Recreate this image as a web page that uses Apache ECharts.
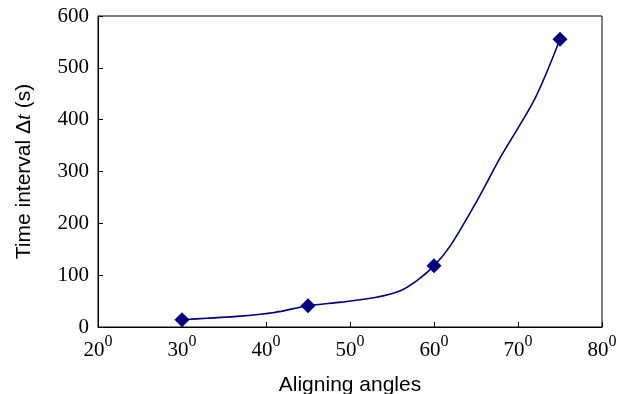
<!DOCTYPE html>
<html>
<head>
<meta charset="utf-8">
<script src="https://cdn.jsdelivr.net/npm/echarts@6/dist/echarts.min.js"></script>
<style>
  html, body { margin: 0; padding: 0; background: #fff; }
  #chart { width: 625px; height: 394px; }
</style>
</head>
<body>
<div id="chart"></div>
<script>
// measured points (diamonds)
const angles = [30, 45, 60, 75];
const times = [14, 41, 118, 555];

// fitted curve
const curveAngles = [30, 33, 37, 41, 45, 49, 53, 56, 58, 60, 62, 65, 68, 72, 75];
const curveTimes = [14, 17, 21, 28, 41, 48, 57, 70, 90, 118, 158, 240, 330, 440, 555];

const xTicks = [20, 30, 40, 50, 60, 70, 80];
const yTicks = [0, 100, 200, 300, 400, 500, 600];

const navy = '#00007f';
const serif = '"Liberation Serif", "DejaVu Serif", serif';
const sans = '"Liberation Sans", Arial, sans-serif';

const chart = echarts.init(document.getElementById('chart'));

chart.setOption({
  animation: false,
  backgroundColor: '#fff',
  grid: {
    left: 98, right: 23, top: 16, bottom: 67,
    outerBoundsMode: 'none',
    show: true, borderColor: '#000', borderWidth: 1
  },
  xAxis: {
    type: 'value',
    min: xTicks[0],
    max: xTicks[xTicks.length - 1],
    interval: 10,
    name: 'Aligning angles',
    nameLocation: 'middle',
    nameGap: 48,
    nameTextStyle: { fontFamily: sans, fontSize: 21, color: '#000' },
    axisLine: { show: true, lineStyle: { color: '#000', width: 1 } },
    axisTick: { show: true, inside: true, length: 5, lineStyle: { color: '#000' } },
    splitLine: { show: false },
    axisLabel: {
      margin: 7,
      formatter: v => '{v|' + v + '}{s|0}',
      rich: {
        v: { fontFamily: serif, fontSize: 21, lineHeight: 27, verticalAlign: 'bottom', color: '#000' },
        s: { fontFamily: serif, fontSize: 16, lineHeight: 14, verticalAlign: 'top', color: '#000' }
      }
    }
  },
  yAxis: {
    type: 'value',
    min: yTicks[0],
    max: yTicks[yTicks.length - 1],
    interval: 100,
    name: '{n|Time interval Δ}{i|t}{n| (s)}',
    nameLocation: 'middle',
    nameGap: 63,
    nameTextStyle: {
      rich: {
        n: { fontFamily: sans, fontSize: 21, color: '#000' },
        i: { fontFamily: serif, fontSize: 21, fontStyle: 'italic', color: '#000' }
      }
    },
    axisLine: { show: true, lineStyle: { color: '#000', width: 1 } },
    axisTick: { show: true, inside: true, length: 5, lineStyle: { color: '#000' } },
    splitLine: { show: false },
    axisLabel: { margin: 9, fontFamily: serif, fontSize: 21, color: '#000' }
  },
  series: [
    {
      type: 'line',
      data: curveAngles.map((a, i) => [a, curveTimes[i]]),
      smooth: 0.3,
      showSymbol: false,
      lineStyle: { color: navy, width: 1.6 },
      z: 2
    },
    {
      type: 'scatter',
      data: angles.map((a, i) => [a, times[i]]),
      symbol: 'diamond',
      symbolSize: [15, 15],
      itemStyle: { color: navy, opacity: 1 },
      z: 3
    }
  ]
});
</script>
</body>
</html>
